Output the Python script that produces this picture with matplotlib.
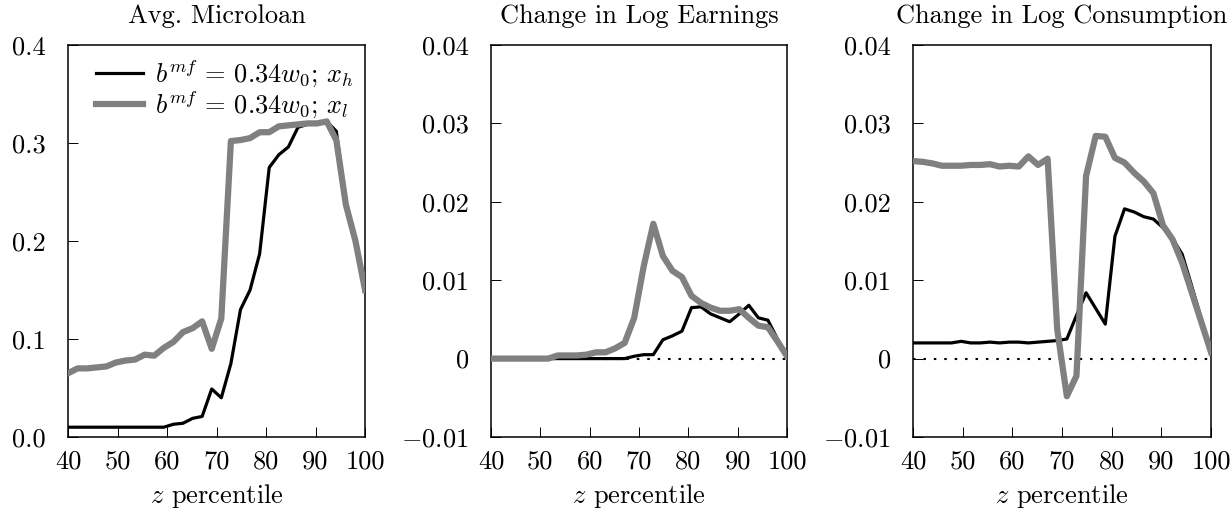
import numpy as np
import matplotlib
matplotlib.use('Agg')
import matplotlib.pyplot as plt

plt.rcParams['font.family'] = 'serif'
plt.rcParams['font.serif'] = ['cmr10']
plt.rcParams['mathtext.fontset'] = 'cm'
plt.rcParams['axes.formatter.use_mathtext'] = True

# percentile grid (32 points from 40 to 100)
pct = np.linspace(40, 100, 32)

# Avg. Microloan
loan_h = [0.010, 0.010, 0.010, 0.010, 0.010, 0.010, 0.010, 0.010, 0.010, 0.010,
          0.010, 0.013, 0.014, 0.019, 0.021, 0.049, 0.040, 0.075, 0.130, 0.150,
          0.187, 0.275, 0.288, 0.296, 0.316, 0.319, 0.320, 0.322, 0.312, 0.240,
          0.200, 0.150]
loan_l = [0.065, 0.070, 0.070, 0.071, 0.072, 0.076, 0.078, 0.079, 0.084, 0.083,
          0.091, 0.097, 0.107, 0.111, 0.118, 0.090, 0.121, 0.302, 0.303, 0.305,
          0.311, 0.311, 0.317, 0.318, 0.319, 0.320, 0.320, 0.322, 0.303, 0.237,
          0.200, 0.150]

# Change in Log Earnings
earn_h = [0.0, 0.0, 0.0, 0.0, 0.0, 0.0, 0.0, 0.0, 0.0, 0.0,
          0.0, 0.0, 0.0, 0.0, 0.0, 0.0003, 0.0005, 0.0005, 0.0024, 0.0029,
          0.0035, 0.0065, 0.0066, 0.0057, 0.0052, 0.0047, 0.0057, 0.0068, 0.0052, 0.0049,
          0.0025, 0.0003]
earn_l = [0.0, 0.0, 0.0, 0.0, 0.0, 0.0, 0.0, 0.0004, 0.0004, 0.0004,
          0.0005, 0.0008, 0.0008, 0.0013, 0.0020, 0.0052, 0.0118, 0.0172, 0.0131, 0.0112,
          0.0104, 0.0080, 0.0071, 0.0065, 0.0061, 0.0061, 0.0063, 0.0052, 0.0042, 0.0040,
          0.0022, 0.0003]

# Change in Log Consumption
cons_h = [0.0020, 0.0020, 0.0020, 0.0020, 0.0020, 0.0022, 0.0020, 0.0020, 0.0021, 0.0020,
          0.0021, 0.0021, 0.0020, 0.0021, 0.0022, 0.0023, 0.0025, 0.0055, 0.0084, 0.0064,
          0.0044, 0.0156, 0.0191, 0.0187, 0.0181, 0.0178, 0.0167, 0.0153, 0.0133, 0.0092,
          0.0050, 0.0008]
cons_l = [0.0252, 0.0251, 0.0249, 0.0246, 0.0246, 0.0246, 0.0247, 0.0247, 0.0248, 0.0245,
          0.0246, 0.0245, 0.0258, 0.0247, 0.0255, 0.0037, -0.0048, -0.0022, 0.0233, 0.0284,
          0.0283, 0.0256, 0.0250, 0.0237, 0.0226, 0.0211, 0.0170, 0.0152, 0.0122, 0.0084,
          0.0046, 0.0008]

titles = ['Avg. Microloan', 'Change in Log Earnings', 'Change in Log Consumption']
labels = [r'$b^{mf}\,=\,0.34w_0;\,x_h$', r'$b^{mf}\,=\,0.34w_0;\,x_l$']
xticks = [40, 50, 60, 70, 80, 90, 100]
loan_ticks = [0.0, 0.1, 0.2, 0.3, 0.4]
loan_ticklabels = ['0.0', '0.1', '0.2', '0.3', '0.4']
chg_ticks = [-0.01, 0, 0.01, 0.02, 0.03, 0.04]
chg_ticklabels = [r'$-0.01$', '0', '0.01', '0.02', '0.03', '0.04']

fs = 19
fig = plt.figure(figsize=(12.32, 5.12), dpi=100)
lefts = [0.0552, 0.3985, 0.7411]
widths = [0.2411, 0.2403, 0.2419]
series = [(loan_h, loan_l), (earn_h, earn_l), (cons_h, cons_l)]

for k in range(3):
    ax = fig.add_axes([lefts[k], 0.1465, widths[k], 0.7656])
    yh, yl = series[k]
    if k > 0:
        ax.axhline(0, color='k', lw=1.5, ls=(0, (1.2, 3.8)), zorder=1)
    ax.plot(pct, yh, color='black', lw=2.3, label=labels[0], zorder=2)
    ax.plot(pct, yl, color='0.5', lw=4.5, label=labels[1], zorder=3)
    ax.set_xlim(40, 100)
    ax.set_xticks(xticks)
    ax.set_xticklabels([str(t) for t in xticks])
    if k == 0:
        ax.set_ylim(0, 0.4)
        ax.set_yticks(loan_ticks)
        ax.set_yticklabels(loan_ticklabels)
    else:
        ax.set_ylim(-0.01, 0.04)
        ax.set_yticks(chg_ticks)
        ax.set_yticklabels(chg_ticklabels)
    ax.tick_params(direction='in', length=7, width=0.7, labelsize=fs,
                   top=False, right=False)
    ax.tick_params(axis='y', pad=16)
    ax.tick_params(axis='x', pad=9)
    for s in ax.spines.values():
        s.set_linewidth(1.1)
    ax.set_title(titles[k], fontsize=fs, pad=15.5)
    ax.set_xlabel(r'$z$ percentile', fontsize=fs, labelpad=6)
    if k == 0:
        ax.legend(loc='upper left', frameon=False, fontsize=fs,
                  handlelength=1.8, handletextpad=0.45, labelspacing=-0.07,
                  borderaxespad=0.2, bbox_to_anchor=(0.04, 1.01))

fig.savefig('out.png', dpi=100)
